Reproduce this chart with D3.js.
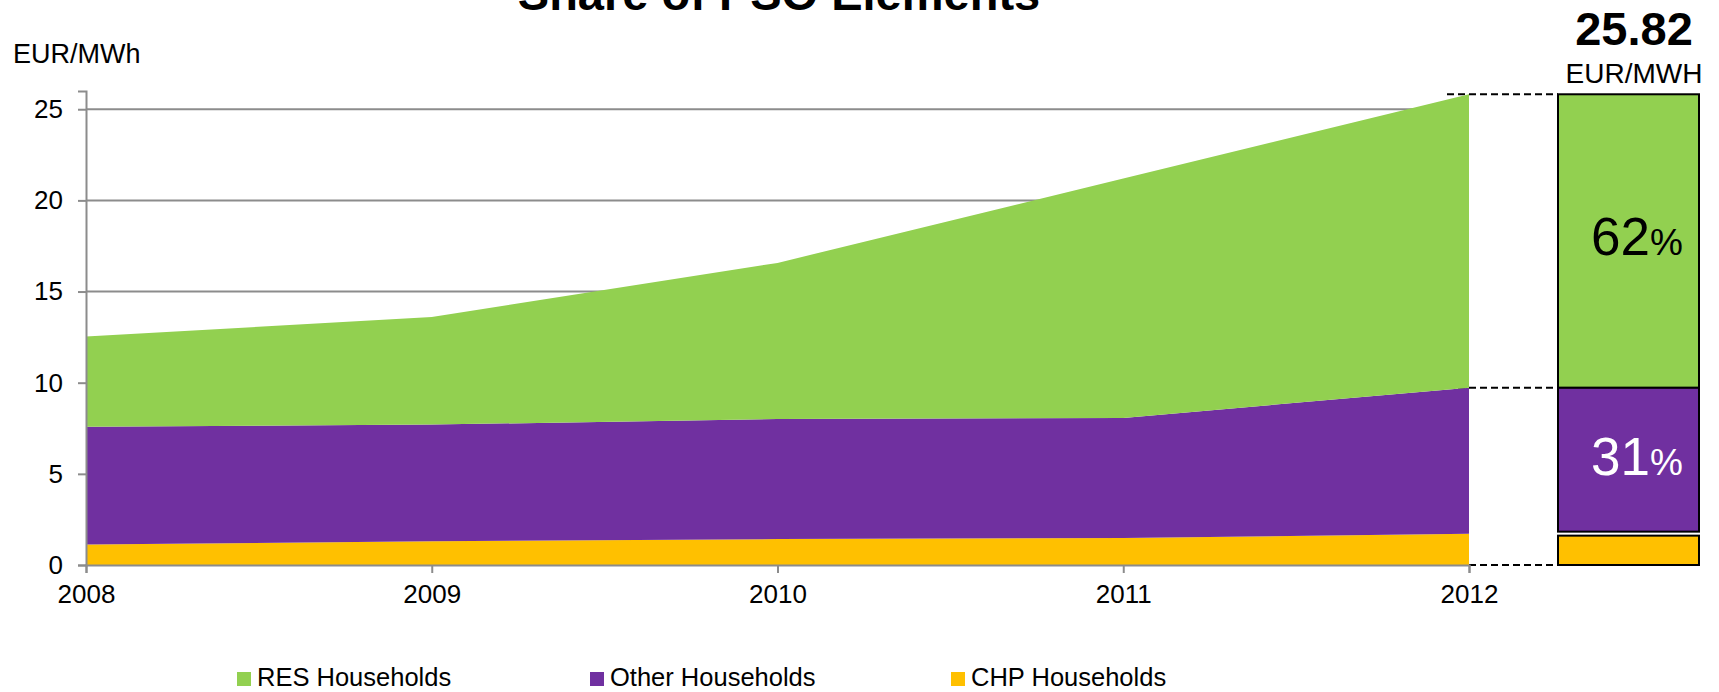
<!DOCTYPE html>
<html>
<head>
<meta charset="utf-8">
<script src="https://cdn.jsdelivr.net/npm/d3@7"></script>
<style>
  html, body { margin: 0; padding: 0; background: #fff; }
  svg { display: block; font-family: "Liberation Sans", Arial, sans-serif; }
</style>
</head>
<body>
<svg id="chart" width="1719" height="692"></svg>
<script>
// PSO elements charged to households, EUR/MWh
const years = [2008, 2009, 2010, 2011, 2012];
const chpValues = [1.13, 1.30, 1.42, 1.48, 1.72];
const otherValues = [6.46, 6.40, 6.59, 6.59, 8.00];
const resValues = [4.94, 5.90, 8.56, 13.13, 16.10];

const seriesKeys = ["chp", "other", "res"];               // stacking order, bottom to top
const seriesLabels = { res: "RES Households", other: "Other Households", chp: "CHP Households" };
const legendOrder = ["res", "other", "chp"];
const colors = { res: "#92D050", other: "#7030A0", chp: "#FFC000" };
const yTicks = [0, 5, 10, 15, 20, 25];

const svg = d3.select("#chart");

const rows = years.map((yr, i) => ({ year: yr, chp: chpValues[i], other: otherValues[i], res: resValues[i] }));
const stacked = d3.stack().keys(seriesKeys)(rows);

const x = d3.scalePoint().domain(years).range([86, 1469]);
const y = d3.scaleLinear().domain([0, 26]).range([565, 91]);

const gridColor = "#8c8c8c";

// title (runs off the top edge)
svg.append("text")
  .attr("x", 779).attr("y", 10)
  .attr("text-anchor", "middle")
  .attr("font-size", 47).attr("font-weight", "bold")
  .text("Share of PSO Elements");

// unit label
svg.append("text")
  .attr("x", 13).attr("y", 63)
  .attr("font-size", 27)
  .text("EUR/MWh");

// horizontal gridlines
svg.append("g").selectAll("line")
  .data(yTicks.filter(t => t > 0))
  .join("line")
  .attr("x1", x(2008)).attr("x2", x(2012))
  .attr("y1", d => y(d)).attr("y2", d => y(d))
  .attr("stroke", gridColor).attr("stroke-width", 2);

// dashed connectors from the last year to the breakdown bar
const last = rows[rows.length - 1];
const total = last.chp + last.other + last.res;
const barX0 = 1558, barX1 = 1699;
const connectorLevels = [total, last.chp + last.other, 0];
svg.append("g").selectAll("line")
  .data(connectorLevels)
  .join("line")
  .attr("x1", x(2012) - 22).attr("x2", barX0)
  .attr("y1", d => y(d)).attr("y2", d => y(d))
  .attr("stroke", "#000").attr("stroke-width", 2)
  .attr("stroke-dasharray", "7,4");

// stacked areas
const area = d3.area()
  .x(d => x(d.data.year))
  .y0(d => y(d[0]))
  .y1(d => y(d[1]));

svg.append("g").selectAll("path")
  .data(stacked)
  .join("path")
  .attr("d", area)
  .attr("fill", d => colors[d.key]);

// axes
const yAxis = d3.axisLeft(y).tickValues(yTicks).tickSize(8).tickPadding(15).tickFormat(d3.format("d"));
const gy = svg.append("g").attr("transform", `translate(${x(2008)},0)`).call(yAxis);
gy.select(".domain").attr("stroke", gridColor).attr("stroke-width", 2);
gy.selectAll(".tick line").attr("stroke", gridColor).attr("stroke-width", 2);
gy.selectAll(".tick text").attr("font-size", 26).attr("fill", "#000")
  .attr("font-family", "'Liberation Sans', Arial, sans-serif");

const xAxis = d3.axisBottom(x).tickSize(8).tickPadding(12).tickFormat(d3.format("d"));
const gx = svg.append("g").attr("transform", `translate(0,${y(0)})`).call(xAxis);
gx.select(".domain").attr("stroke", gridColor).attr("stroke-width", 2);
gx.selectAll(".tick line").attr("stroke", gridColor).attr("stroke-width", 2);
gx.selectAll(".tick text").attr("font-size", 26).attr("fill", "#000")
  .attr("font-family", "'Liberation Sans', Arial, sans-serif");

// breakdown bar for the last year
const barSegments = [
  { key: "res", y0: last.chp + last.other, y1: total, padTop: 0, padBottom: 0 },
  { key: "other", y0: last.chp, y1: last.chp + last.other, padTop: 0, padBottom: 2 },
  { key: "chp", y0: 0, y1: last.chp, padTop: 2, padBottom: 0 }
];
svg.append("g").selectAll("rect")
  .data(barSegments)
  .join("rect")
  .attr("x", barX0).attr("width", barX1 - barX0)
  .attr("y", d => y(d.y1) + d.padTop)
  .attr("height", d => y(d.y0) - y(d.y1) - d.padTop - d.padBottom)
  .attr("fill", d => colors[d.key])
  .attr("stroke", "#000").attr("stroke-width", 2);

const pctLabels = [
  { key: "res", value: last.res, color: "#000" },
  { key: "other", value: last.other, color: "#fff" }
];
const pct = svg.append("g").selectAll("text")
  .data(pctLabels)
  .join("text")
  .attr("x", 1637)
  .attr("y", d => {
    const seg = barSegments.find(s => s.key === d.key);
    return (y(seg.y0) + y(seg.y1)) / 2 + 14;
  })
  .attr("text-anchor", "middle")
  .attr("fill", d => d.color);
pct.append("tspan").attr("font-size", 53).text(d => Math.round(d.value / total * 100));
pct.append("tspan").attr("font-size", 37).text("%");

// total above the bar
svg.append("text")
  .attr("x", 1634).attr("y", 45)
  .attr("text-anchor", "middle")
  .attr("font-size", 47).attr("font-weight", "bold")
  .text(total.toFixed(2));
svg.append("text")
  .attr("x", 1634).attr("y", 83)
  .attr("text-anchor", "middle")
  .attr("font-size", 28)
  .text("EUR/MWH");

// legend
const legendX = { res: 237, other: 590, chp: 951 };
const lg = svg.append("g").selectAll("g")
  .data(legendOrder)
  .join("g")
  .attr("transform", d => `translate(${legendX[d]},672)`);
lg.append("rect").attr("width", 14).attr("height", 14).attr("fill", d => colors[d]);
lg.append("text").attr("x", 20).attr("y", 14).attr("font-size", 25.5).text(d => seriesLabels[d]);
</script>
</body>
</html>
